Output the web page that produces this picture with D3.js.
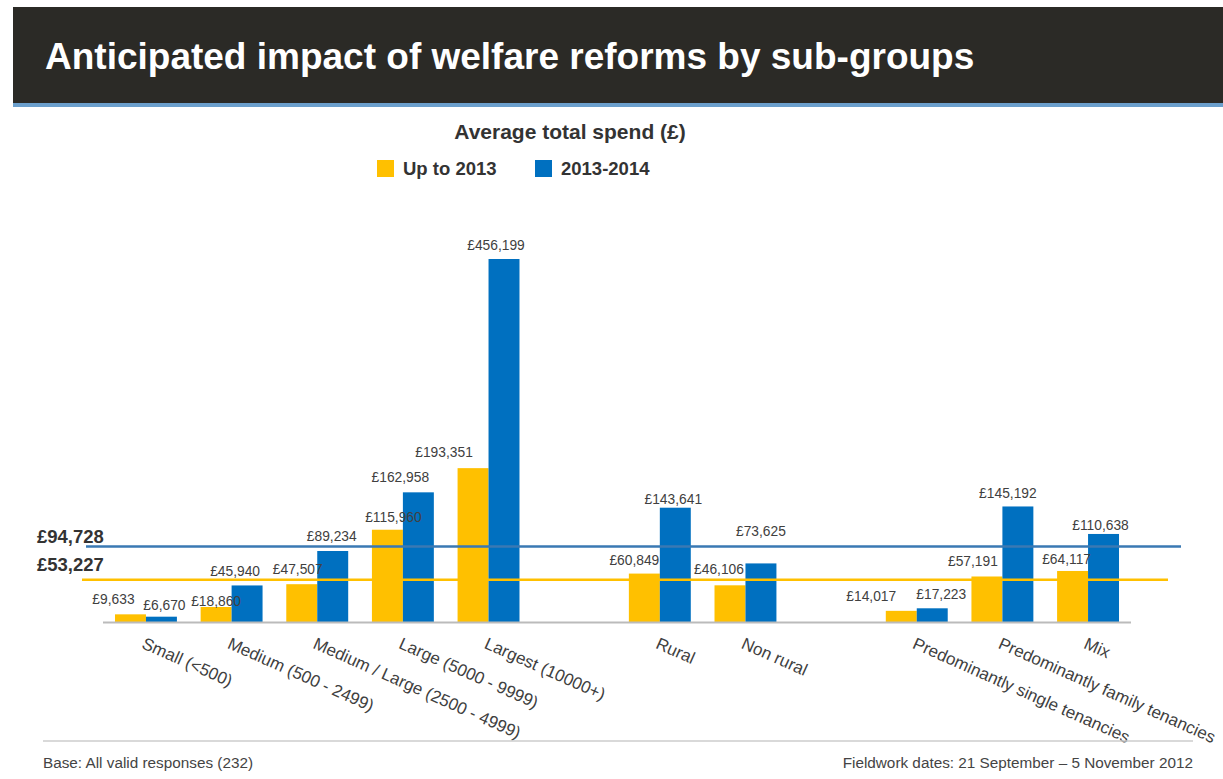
<!DOCTYPE html>
<html>
<head>
<meta charset="utf-8">
<script src="https://cdn.jsdelivr.net/npm/d3@7"></script>
<style>
  body { margin: 0; background: #fff; }
  svg { display: block; font-family: Arial, "Liberation Sans", sans-serif; }
</style>
</head>
<body>
<div id="chart"></div>
<script>
// categories (blank entries are the gaps between groups)
var categories = ["Small (<500)", "Medium (500 - 2499)", "Medium / Large (2500 - 4999)",
    "Large (5000 - 9999)", "Largest (10000+)", "",
    "Rural", "Non rural", " ",
    "Predominantly single tenancies", "Predominantly family tenancies", "Mix"];
var series_names = ["Up to 2013", "2013-2014"];
var up_to_2013 = [9633, 18860, 47507, 115960, 193351, null, 60849, 46106, null, 14017, 57191, 64117];
var y2013_2014 = [6670, 45940, 89234, 162958, 456199, null, 143641, 73625, null, 17223, 145192, 110638];
var averages = [53227, 94728];

// layout only: hand placed label nudges (dx from bar centre, gap above bar top)
var nudge_dx = [[-17, 3], [0, -12], [-4, -1], [6, -18], [-29, -8], [0, 0],
                [-10, -2], [-11, 0], [0, 0], [-30, 9], [-14, -10], [-6, -3]];
var nudge_dy = [[10, 7], [1, 9], [10, 10], [8, 10], [11, 9], [0, 0],
                [9, 4], [11, 27], [0, 0], [10, 9], [10, 8], [7, 4]];
var colors = ["#ffc000", "#0070c0"];
var line_colors = ["#ffc000", "#3a79b3"];

var W = 1223, H = 779;
var svg = d3.select("#chart").append("svg")
    .attr("width", W)
    .attr("height", H);

// header band
svg.append("rect").attr("x", 13).attr("y", 7).attr("width", W - 13).attr("height", 96).attr("fill", "#2b2a26");
svg.append("rect").attr("x", 13).attr("y", 103).attr("width", W - 13).attr("height", 4).attr("fill", "#6b9fcc");
svg.append("text")
    .attr("x", 45).attr("y", 69)
    .attr("fill", "#fff")
    .attr("font-size", 37)
    .attr("font-weight", "bold")
    .text("Anticipated impact of welfare reforms by sub-groups");

svg.append("text")
    .attr("x", 570).attr("y", 139)
    .attr("text-anchor", "middle")
    .attr("fill", "#333")
    .attr("font-size", 21)
    .attr("font-weight", "bold")
    .text("Average total spend (£)");

// legend
var legend_x = [377, 535];
series_names.forEach(function(name, i) {
    svg.append("rect").attr("x", legend_x[i]).attr("y", 160).attr("width", 17).attr("height", 17).attr("fill", colors[i]);
    svg.append("text")
        .attr("x", legend_x[i] + 26).attr("y", 175)
        .attr("fill", "#333")
        .attr("font-size", 18.5)
        .attr("font-weight", "bold")
        .text(name);
});

var x0 = 103, x1 = 1131, base_y = 622;
var x = d3.scaleBand().domain(categories).range([x0, x1]).paddingInner(0.277).paddingOuter(0.14);
var xs = d3.scaleBand().domain([0, 1]).range([0, x.bandwidth()]);
var y = d3.scaleLinear().domain([0, 456199]).range([base_y, 259]);

var fmt = function(v) { return "£" + d3.format(",")(v); };

var rows = [];
categories.forEach(function(c, i) {
    [up_to_2013[i], y2013_2014[i]].forEach(function(v, s) {
        if (v != null) rows.push({cat: c, i: i, s: s, v: v});
    });
});

var bars = svg.append("g");
bars.selectAll("rect").data(rows).enter().append("rect")
    .attr("x", function(d) { return x(d.cat) + xs(d.s); })
    .attr("y", function(d) { return y(d.v); })
    .attr("width", xs.bandwidth())
    .attr("height", function(d) { return base_y - y(d.v); })
    .attr("fill", function(d) { return colors[d.s]; });

// axis baseline
svg.append("line")
    .attr("x1", x0).attr("x2", x1)
    .attr("y1", base_y + 0.5).attr("y2", base_y + 0.5)
    .attr("stroke", "#bbb").attr("stroke-width", 2);

// average lines
var line_ext = [[82, 1168], [86, 1181]];
averages.forEach(function(a, i) {
    svg.append("line")
        .attr("x1", line_ext[i][0]).attr("x2", line_ext[i][1])
        .attr("y1", y(a)).attr("y2", y(a))
        .attr("stroke", line_colors[i]).attr("stroke-width", 2.5);
});
svg.append("g").selectAll("text").data(averages).enter().append("text")
    .attr("x", 37)
    .attr("y", function(a, i) { return i == 0 ? 571 : 543; })
    .attr("fill", "#333")
    .attr("font-size", 18.5)
    .attr("font-weight", "bold")
    .text(fmt);

// value labels
bars.selectAll("text").data(rows).enter().append("text")
    .attr("x", function(d) { return x(d.cat) + xs(d.s) + xs.bandwidth() / 2 + nudge_dx[d.i][d.s]; })
    .attr("y", function(d) { return y(d.v) - nudge_dy[d.i][d.s]; })
    .attr("text-anchor", "middle")
    .attr("fill", "#404040")
    .attr("font-size", 13.8)
    .text(function(d) { return fmt(d.v); });

// category labels, rotated
svg.append("g").selectAll("text")
    .data(categories.filter(function(c) { return c.trim() != ""; }))
    .enter().append("text")
    .attr("transform", function(d) { return "translate(" + (x(d) + x.bandwidth() / 2) + "," + 636 + ") rotate(24)"; })
    .attr("dy", "0.75em")
    .attr("fill", "#404040")
    .attr("font-size", 17)
    .text(function(d) { return d; });

// footer
svg.append("line")
    .attr("x1", 43).attr("x2", 1193)
    .attr("y1", 741).attr("y2", 741)
    .attr("stroke", "#ccc").attr("stroke-width", 1.5);
svg.append("text")
    .attr("x", 43).attr("y", 768)
    .attr("fill", "#444").attr("font-size", 15.3)
    .text("Base: All valid responses (232)");
svg.append("text")
    .attr("x", 1193).attr("y", 768)
    .attr("text-anchor", "end")
    .attr("fill", "#444").attr("font-size", 15.3)
    .text("Fieldwork dates: 21 September – 5 November 2012");
</script>
</body>
</html>
